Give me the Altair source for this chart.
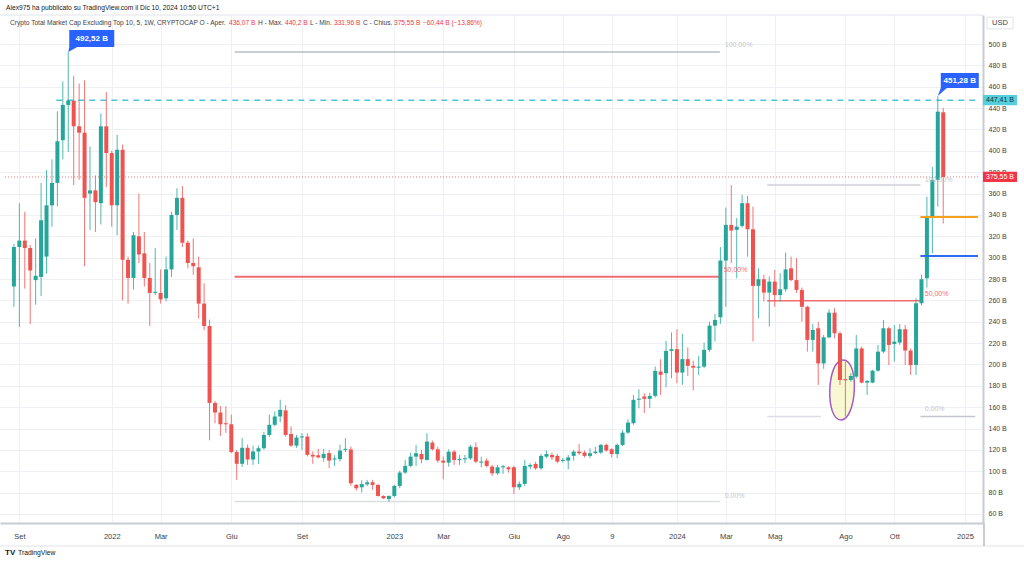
import altair as alt
import pandas as pd

# ---- weekly OHLC (billions USD), candle 0 = week of 30 Aug 2021 ----
opens = [273, 310, 316, 309, 279, 282, 301, 349, 370, 410,
         443, 447, 423, 417, 360, 363, 351, 423, 398, 349,
         401, 298, 281, 320, 304, 281, 267, 267, 262, 289,
         340, 356, 314, 295, 291, 257, 236, 164, 155, 145,
         144, 118, 107, 122, 111, 118.5, 121.6, 134, 143.5, 151.3,
         157, 135, 124, 131.6, 132.5, 115.4, 115, 112.3, 117, 111,
         111.3, 120, 120.5, 87.3, 85, 87.8, 89.7, 87.2, 76.9, 74,
         76.9, 86.3, 98.8, 105, 113.7, 116.2, 110.6, 126.8, 120.6, 110,
         108.1, 118.4, 110.6, 111.2, 112, 122.5, 108.1, 110, 104.4, 98.1,
         103.7, 103.7, 103.7, 85, 88.2, 104.4, 106.9, 102.8, 113.7, 115.3,
         114.4, 109.7, 110, 114.4, 118.4, 117.5, 114.4, 117, 117.5, 124.7,
         120.6, 116.2, 124.7, 136.2, 145, 167, 170, 167.8, 170.6, 193.4,
         191.8, 212.7, 214.3, 192.4, 205, 198.7, 197, 198, 213.7, 236.4,
         244.2, 297.3, 330.7, 326, 329.7, 351, 326.6, 273.6, 279.8, 267.3,
         277.6, 265, 270.4, 290, 279, 269.7, 254, 223, 233.9, 201,
         225.4, 248.5, 229.2, 186.2, 185.5, 188.6, 215, 183, 183, 194.2,
         212, 233.9, 219.2, 220.5, 233, 213, 199.5, 257.3, 280.7, 338.5,
         372.8, 436.07]
highs = [313, 351, 343, 312, 318, 370, 382, 392, 437, 465,
         492.52, 470, 463, 466, 404, 377, 435, 455, 400, 415,
         406, 301, 324, 360, 324, 295, 309, 289, 301, 343,
         365, 367, 316, 318, 301, 276, 242, 166, 161, 161,
         153, 120, 131, 125, 124, 124, 137, 153, 156, 167,
         162, 142, 134, 135.7, 135.7, 118.5, 121, 121, 120, 115,
         125, 131, 123, 88, 91.5, 92, 92, 88, 77.5, 77.5,
         87.2, 100.6, 110.6, 117.5, 124.6, 120, 135.6, 128.7, 123, 113.7,
         120.6, 120, 115.3, 115.3, 124.7, 127, 113.7, 112, 106, 106,
         106, 105, 105, 90.4, 110.6, 107.5, 109, 116.2, 119.4, 117.5,
         116.2, 112.3, 115.3, 120, 125.6, 119.4, 121.6, 123, 125.6, 126,
         121.6, 126, 138.7, 148.7, 171.5, 176.8, 173, 173.5, 198, 204.9,
         222, 230, 233, 228.6, 216, 203.4, 208, 220.5, 240, 247.4,
         310, 347, 368, 337, 358.7, 358, 347.8, 290, 284, 282.3,
         288.5, 285.4, 304.8, 301, 299.5, 272, 255, 238, 240, 227.6,
         251.6, 252.6, 230.8, 202.7, 191.7, 227.6, 216.7, 185.5, 194.9, 218.3,
         241.7, 235.5, 237, 237.9, 237, 215, 262, 284, 357, 385,
         451.28, 440.2]
lows = [254, 235, 271, 238, 256, 264, 285, 329, 348, 392,
        399, 368, 373, 292, 326, 324, 331, 366, 329, 321,
        260, 257, 270, 295, 273, 236, 265, 257, 259, 282,
        326, 310, 290, 284, 243, 232, 129, 145, 133, 136,
        117, 92, 104, 106, 106, 107, 120, 132, 142, 146,
        132.5, 123, 122, 120, 113.8, 107, 112, 109, 103, 105,
        109, 118, 86.3, 82, 80, 86, 82.6, 76.3, 74, 71.6,
        75.6, 84.1, 97.5, 103.7, 105, 107.5, 110, 119.4, 108.1, 92.5,
        104.4, 106, 106, 107.5, 110.6, 107.5, 103.7, 103.7, 95.6, 96.6,
        97.5, 98.8, 78.8, 82.5, 86.3, 101.9, 101.3, 101.3, 112.3, 110.6,
        107.5, 108.1, 101.9, 110, 115.3, 113, 112.3, 116.2, 116.2, 118.4,
        113, 112.3, 123.7, 135, 143.5, 159, 154.4, 159, 169, 171.5,
        178.7, 187, 182.5, 181, 189.3, 175.6, 190, 196.5, 212, 221.5,
        238, 254, 294.8, 280.7, 328, 301, 221.5, 243.3, 259, 235.5,
        254, 259, 268, 278, 267, 240, 212, 212, 180.8, 196,
        224.5, 224.5, 180.8, 151.2, 184, 187, 182.4, 171.5, 182.4, 193.3,
        210.5, 199.5, 202.7, 218.3, 199.5, 190.2, 190.2, 255, 272, 304,
        347.8, 331.96]
closes = [310, 316, 309, 288, 283, 335, 349, 370, 409, 443,
          447, 423, 417, 356, 363, 352, 423, 398, 349, 401,
          298, 281, 321, 303, 281, 267, 268, 261, 289, 340,
          356, 314, 295, 292, 257, 236, 164, 155, 144, 144,
          118, 107, 122, 111, 118.5, 121.6, 134, 143.5, 151.3, 157.5,
          134, 124, 131.6, 132.5, 115.4, 113.8, 113, 116.3, 110, 112,
          119.4, 120.5, 88.8, 84.1, 88, 89.7, 87.2, 76.9, 74.7, 76.9,
          86.3, 98.8, 105, 113.7, 116.9, 111.2, 127.8, 120.6, 110, 108.1,
          118.4, 110.6, 111.2, 112, 123, 109, 109, 105, 98.1, 103.7,
          103.9, 101.9, 85, 88.2, 105, 106, 102.8, 114.4, 116.2, 113,
          109, 110, 113, 118.4, 116.9, 114.4, 116.9, 118.4, 124.7, 119.4,
          116.2, 124.7, 136.2, 145.6, 166.9, 168, 167.8, 170.6, 194, 190.3,
          212.7, 214.3, 192.4, 205, 198.7, 197, 198, 213.7, 236.4, 241.7,
          297.3, 330.7, 325.4, 329, 351, 326.6, 273.6, 279.8, 267.3, 277.6,
          265, 270.4, 289, 279, 269.8, 254, 223, 232.3, 201, 225.4,
          248.5, 229.2, 185.5, 186, 189.2, 215, 183, 184.5, 194.2, 212,
          233.9, 218.3, 221.4, 233, 213, 199.5, 257.3, 279.8, 338.5, 372.8,
          436.7, 375.55]

# time axis: candle index of each label, and the label
tick_idx = [1, 18, 27, 40, 53, 70, 79, 92, 101, 110, 122, 131, 140, 153, 162, 175]
tick_lab = ["Set", "2022", "Mar", "Giu", "Set", "2023", "Mar", "Giu", "Ago", "9",
            "2024", "Mar", "Mag", "Ago", "Ott", "2025"]
price_ticks = list(range(60, 501, 20))

# drawn levels (values in B)
cyan_level = 447.41
last_close = 375.55
orange_level = 338
blue_level = 301.5

FONT = "Liberation Sans"
GREEN = "#26a69a"
RED = "#ef5350"
DARK = "#3b3e47"
GRID = "#eef0f4"

df = pd.DataFrame({"i": list(range(len(opens))), "o": opens, "h": highs, "l": lows, "c": closes})

xscale = alt.Scale(domain=[-1.64, 177.4], nice=False, zero=False)
yscale = alt.Scale(domain=[51.57, 527.2], nice=False, zero=False)

lab_expr = " : ".join(f"datum.value == {v} ? '{t}'" for v, t in zip(tick_idx, tick_lab)) + " : ''"
xaxis = alt.Axis(values=tick_idx, labelExpr=lab_expr, title=None, grid=True, gridColor=GRID,
                 ticks=False, domainColor="#c9ccd2", domainWidth=2, labelPadding=9,
                 labelFontSize=7.5, labelColor=DARK, labelFont=FONT, labelOverlap=False,
                 labelFlush=False)
yaxis = alt.Axis(orient="right", values=price_ticks, labelExpr="datum.value + ' B'", title=None,
                 grid=True, gridColor=GRID, ticks=False, domainColor="#c9ccd2", domainWidth=2,
                 labelPadding=5, labelFontSize=7, labelColor=DARK, labelFont=FONT,
                 labelOverlap=False, labelFlush=False, labelAlign="left")


def X(f):
    return alt.X(f, scale=xscale, axis=xaxis)


def Y(f):
    return alt.Y(f, scale=yscale, axis=yaxis)


one = pd.DataFrame({"k": [0]})
layers = []

# ellipse highlight (behind candles)
ell = pd.DataFrame({"i": [152.3], "v": [176.1]})
layers.append(alt.Chart(ell).mark_point(
    shape="M0.05,-1 C0.62,-1 0.5,1 -0.02,1 C-0.56,1 -0.5,-1 0.05,-1 Z",
    size=3600, filled=True, fill="#f6f6c4", fillOpacity=0.75, stroke="#a35cc6",
    strokeWidth=1.5, opacity=1).encode(x=X("i:Q"), y=Y("v:Q")))


def hline(v, i0, i1, color, width, dash=None, opacity=1.0):
    d = pd.DataFrame({"v": [v], "i0": [i0], "i1": [i1]})
    kw = dict(color=color, strokeWidth=width, opacity=opacity)
    if dash:
        kw["strokeDash"] = dash
    return alt.Chart(d).mark_rule(**kw).encode(x=X("i0:Q"), x2="i1:Q", y=Y("v:Q"))


# Fibonacci retracements
hi1, lo1 = highs[10], lows[69]
hi2, lo2 = highs[132], lows[153]
layers += [
    hline(hi1, 40.6, 129.9, "#b9bcc4", 1.5),
    hline((hi1 + lo1) / 2, 40.6, 129.9, "#f26d72", 2),
    hline(lo1, 40.6, 129.9, "#dcdee3", 1.5),
    hline(hi2, 138.6, 166.8, "#cfd2d7", 1.5),
    hline((hi2 + lo2) / 2, 138.6, 166.8, "#f26d72", 1.5),
    hline(lo2, 138.6, 148.5, "#dcdee3", 1.5),
    hline(lo2, 166.8, 176.9, "#c3c6cc", 1.5),
    hline(cyan_level, 7.8, 177.4, "#4fc6d8", 1.5, [6, 5]),
    hline(last_close, -1.64, 177.4, "#f26d72", 1, [1, 2], 0.9),
]

# candles
cond = alt.condition("datum.c >= datum.o", alt.value(GREEN), alt.value(RED))
base = alt.Chart(df).transform_calculate(
    c2="abs(datum.c - datum.o) < 1 ? datum.o + (datum.c >= datum.o ? 1 : -1) : datum.c")
layers.append(base.mark_rule(strokeWidth=1, opacity=0.8).encode(
    x=X("i:Q"), y=Y("l:Q"), y2="h:Q", color=cond))
layers.append(base.mark_bar(size=4).encode(
    x=X("i:Q"), y=Y("o:Q"), y2="c2:Q", color=cond))

# short levels on the right
layers += [
    hline(orange_level, 166.8, 177.4, "#f5a11c", 2),
    hline(blue_level, 166.8, 177.4, "#2f6bf0", 2),
]

# fib labels
fl = pd.DataFrame({"i": [130.8, 130.6, 130.8, 167.6, 167.6, 167.6],
                   "v": [499.1, 288.5, 76.9, 372.7, 266.0, 158.3],
                   "t": ["100,00%", "50,00%", "0,00%", "100,00%", "50,00%", "0,00%"],
                   "k": ["g", "r", "g", "g", "r", "g"]})
layers.append(alt.Chart(fl).mark_text(align="left", baseline="middle", fontSize=7, font=FONT).encode(
    x=X("i:Q"), y=Y("v:Q"), text="t:N",
    color=alt.condition("datum.k == 'r'", alt.value("#f26d72"), alt.value("#c3c6cc"))))

# callouts (max markers)
c1 = pd.DataFrame({"i": [10], "v": [highs[10]], "t": ["492,52 B"]})
c2 = pd.DataFrame({"i": [170], "v": [highs[170]], "t": ["451,28 B"]})
layers.append(alt.Chart(c1).mark_point(
    shape="M0,0 L0.9,-0.5 L4.6,-0.5 L4.6,-2.2 L0.1,-2.2 L0.1,-0.5 Z", size=400,
    filled=True, fill="#2962ff", strokeWidth=0, opacity=1).encode(x=X("i:Q"), y=Y("v:Q")))
layers.append(alt.Chart(c1).mark_text(dx=23.5, dy=-13.5, color="white", fontSize=8, fontWeight="bold",
                                      font=FONT).encode(x=X("i:Q"), y=Y("v:Q"), text="t:N"))
layers.append(alt.Chart(c2).mark_point(
    shape="M0,0 L0.9,-0.8 L4.1,-0.8 L4.1,-2.3 L0.3,-2.3 L0.3,-0.8 Z", size=400,
    filled=True, fill="#2962ff", strokeWidth=0, opacity=1).encode(x=X("i:Q"), y=Y("v:Q")))
layers.append(alt.Chart(c2).mark_text(dx=22, dy=-15.5, color="white", fontSize=8, fontWeight="bold",
                                      font=FONT).encode(x=X("i:Q"), y=Y("v:Q"), text="t:N"))

# price-axis tags
BOX = "M-1,-0.3 L1,-0.3 L1,0.3 L-1,0.3 Z"
tag1 = pd.DataFrame({"v": [cyan_level], "t": ["447,41 B"]})
tag2 = pd.DataFrame({"v": [last_close], "t": ["375,55 B"]})
for d, fillc, txtc in [(tag1, "#55cfdc", "#10333a"), (tag2, "#f23645", "white")]:
    layers.append(alt.Chart(d).mark_point(shape=BOX, size=1156, filled=True, fill=fillc,
                                          strokeWidth=0, opacity=1).encode(x=alt.value(1000), y=Y("v:Q")))
    layers.append(alt.Chart(d).mark_text(color=txtc, fontSize=7, font=FONT, align="center",
                                         baseline="middle").encode(x=alt.value(1000), y=Y("v:Q"), text="t:N"))

# frame lines
layers.append(alt.Chart(one).mark_rule(color="#e0e3eb", strokeWidth=1).encode(
    x=alt.value(0), x2=alt.value(983), y=alt.value(0)))
layers.append(alt.Chart(one).mark_rule(color="#e0e3eb", strokeWidth=1).encode(
    x=alt.value(0), x2=alt.value(1024), y=alt.value(531)))
layers.append(alt.Chart(one).mark_rule(color="#c9ccd2", strokeWidth=2).encode(
    x=alt.value(984), y=alt.value(508), y2=alt.value(531)))

# USD box
layers.append(alt.Chart(one).mark_point(shape="M-1,-0.45 L1,-0.45 L1,0.45 L-1,0.45 Z", size=676,
                                        filled=True, fill="white", stroke="#e0e3eb", strokeWidth=1,
                                        opacity=1).encode(x=alt.value(1000), y=alt.value(8)))
layers.append(alt.Chart(one).mark_text(text="USD", fontSize=7.5, font=FONT, color=DARK,
                                       align="center", baseline="middle").encode(
    x=alt.value(1000), y=alt.value(8)))

# header texts
layers.append(alt.Chart(one).mark_text(
    text="Alex975 ha pubblicato su TradingView.com il Dic 10, 2024 10:50 UTC+1",
    fontSize=6.7, font=FONT, color="#131722", align="left", baseline="middle").encode(
    x=alt.value(6), y=alt.value(-7)))
segs = [("Crypto Total Market Cap Excluding Top 10, 5, 1W, CRYPTOCAP  O - Aper.", DARK, 10),
        ("436,07 B", "#f23645", 229),
        ("H - Max.", DARK, 258),
        ("440,2 B", "#f23645", 285),
        ("L - Min.", DARK, 310),
        ("331,96 B", "#f23645", 334),
        ("C - Chius.", DARK, 363),
        ("375,55 B", "#f23645", 394),
        ("\u221260,44 B (\u221213,86%)", "#f23645", 423)]
for t, col, xp in segs:
    layers.append(alt.Chart(one).mark_text(text=t, fontSize=6.6, font=FONT, color=col,
                                           align="left", baseline="middle").encode(
        x=alt.value(xp), y=alt.value(8)))

# TradingView logo
layers.append(alt.Chart(one).mark_text(text="TV", fontSize=8, fontWeight="bold", font=FONT,
                                       color="#131722", align="left", baseline="middle").encode(
    x=alt.value(5), y=alt.value(538)))
layers.append(alt.Chart(one).mark_text(text="TradingView", fontSize=6.8, font=FONT,
                                       color="#131722", align="left", baseline="middle").encode(
    x=alt.value(18), y=alt.value(538)))

chart = alt.layer(*layers).properties(
    width=983, height=508,
    autosize=alt.AutoSizeParams(type="none"),
    padding={"left": 0, "top": 15, "right": 41, "bottom": 41},
    background="white",
).configure_view(stroke=None)

chart.save("out.html", embed_options={"renderer": "svg", "actions": False})
